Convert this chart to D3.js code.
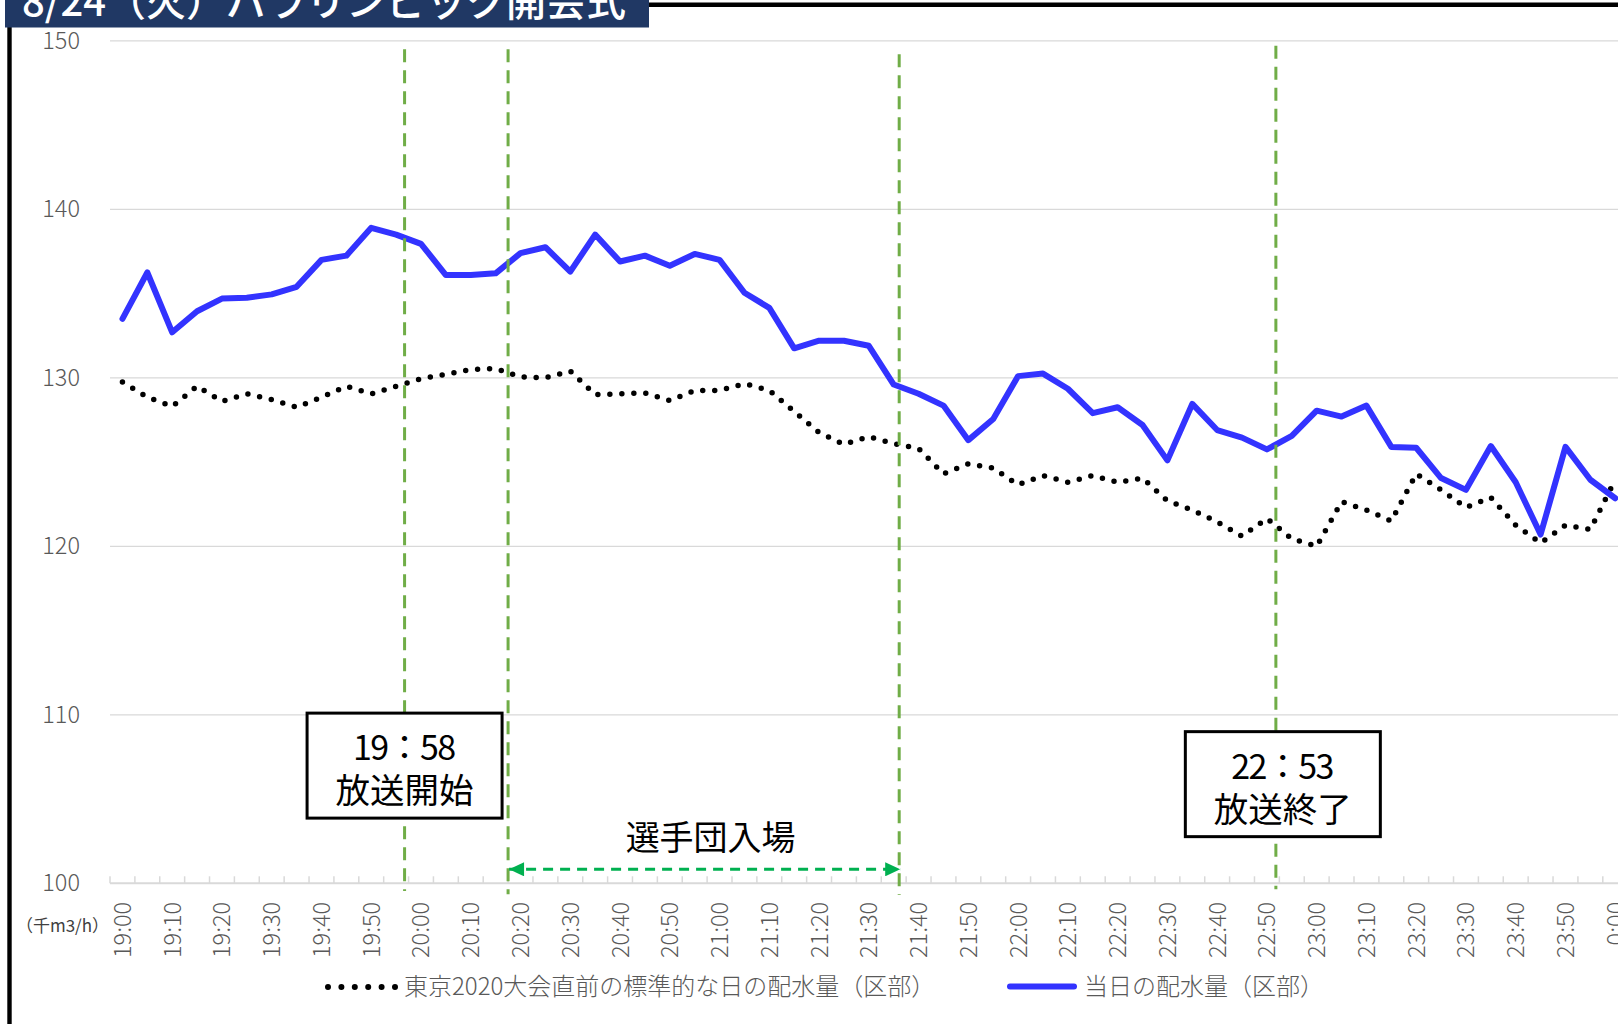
<!DOCTYPE html>
<html><head><meta charset="utf-8">
<script src="https://cdn.jsdelivr.net/npm/d3@7"></script>
<style>
html,body{margin:0;padding:0;background:#fff;overflow:hidden}
svg{display:block}
text{font-family:"Noto Sans CJK JP","Noto Sans",sans-serif}
</style></head><body>
<svg id="chart" width="1618" height="1024"></svg>
<script>
// ---------- data ----------
const categories = [
 "19:00","19:05","19:10","19:15","19:20","19:25","19:30","19:35","19:40","19:45",
 "19:50","19:55","20:00","20:05","20:10","20:15","20:20","20:25","20:30","20:35",
 "20:40","20:45","20:50","20:55","21:00","21:05","21:10","21:15","21:20","21:25",
 "21:30","21:35","21:40","21:45","21:50","21:55","22:00","22:05","22:10","22:15",
 "22:20","22:25","22:30","22:35","22:40","22:45","22:50","22:55","23:00","23:05",
 "23:10","23:15","23:20","23:25","23:30","23:35","23:40","23:45","23:50","23:55","0:00"];
const tickLabels = [
 "19:00","19:10","19:20","19:30","19:40","19:50","20:00","20:10","20:20","20:30",
 "20:40","20:50","21:00","21:10","21:20","21:30","21:40","21:50","22:00","22:10",
 "22:20","22:30","22:40","22:50","23:00","23:10","23:20","23:30","23:40","23:50","0:00"];
const yTicks = [100, 110, 120, 130, 140, 150];
const standardDay = [
 129.75,128.85,128.3,129.5,128.6,129.05,128.7,128.25,128.85,129.5,
 129.05,129.5,129.95,130.2,130.5,130.55,130.05,130.0,130.4,129.0,
 129.05,129.1,128.65,129.25,129.25,129.65,129.25,128.0,126.75,126.05,
 126.5,126.1,125.8,124.3,124.9,124.65,123.65,124.2,123.8,124.2,
 123.8,124.05,122.7,122.15,121.45,120.6,121.65,120.45,120.0,122.65,
 122.15,121.5,124.3,123.35,122.3,122.9,121.25,120.2,121.25,121.0,123.95];
const today = [
 133.5,136.25,132.7,133.95,134.7,134.75,134.95,135.4,137.0,137.25,
 138.9,138.5,137.95,136.1,136.1,136.2,137.4,137.75,136.3,138.5,
 136.9,137.25,136.65,137.35,137.0,135.05,134.15,131.75,132.2,132.2,
 131.9,129.6,129.05,128.35,126.3,127.55,130.1,130.25,129.35,127.9,
 128.25,127.2,125.1,128.45,126.9,126.45,125.75,126.55,128.05,127.7,
 128.35,125.9,125.85,124.05,123.35,125.95,123.8,120.7,125.9,123.95,122.85];
const seriesNames = ["東京2020大会直前の標準的な日の配水量（区部）", "当日の配水量（区部）"];
const titleText = "8/24（火）パラリンピック開会式";
const unitLabel = "（千m3/h）";
// event marker lines (minutes after 19:00) and their vertical extent in axis units
const markerMinutes = [56.7, 77.5, 156.1, 231.8];
const markerTop = [149.5, 149.5, 149.2, 149.7];
const markerBottom = [99.55, 99.35, 99.3, 99.65];
// annotation boxes
const boxLine1 = ["19：58", "22：53"];
const boxLine2 = ["放送開始", "放送終了"];
const boxMinutes = [56.7, 233.2];
const boxTop = [110.1, 109.0];
// athletes' entrance span
const entryLabel = "選手団入場";
const entryFrom = 77.5, entryTo = 156.5, entryLevel = 100.83, entryLabelLevel = 101.98;

// ---------- chart ----------
const svg = d3.select("#chart");
svg.append("rect").attr("width",1618).attr("height",1024).attr("fill","#fff");

const x = d3.scaleBand().domain(categories).range([110, 110 + 24.88 * categories.length]);
const cx = c => x(c) + x.bandwidth() / 2;
const xm = d3.scaleLinear().domain([0, 300]).range([cx(categories[0]), cx(categories[categories.length-1])]);
const y = d3.scaleLinear().domain([100, 150]).range([883.3, 40.8]);
const plotLeft = x.range()[0], plotRight = x.range()[1];

// gridlines
svg.append("g").selectAll("line").data(yTicks.filter(v => v !== 100)).join("line")
  .attr("x1", plotLeft).attr("x2", plotRight)
  .attr("y1", d => y(d)).attr("y2", d => y(d))
  .attr("stroke", "#d9d9d9").attr("stroke-width", 1.3);

// y axis labels
const yAxis = svg.append("g").attr("transform", `translate(${plotLeft},0)`)
  .call(d3.axisLeft(y).tickValues(yTicks).tickSize(0).tickPadding(30));
yAxis.select(".domain").remove();
yAxis.selectAll("text").attr("font-size", 23.5).attr("fill", "#595959")
  .attr("font-weight", 300).attr("font-family", '"Noto Sans CJK JP", sans-serif');

// x axis line + ticks (between categories)
svg.append("line").attr("x1", plotLeft).attr("x2", plotRight)
  .attr("y1", y(100)).attr("y2", y(100)).attr("stroke", "#d9d9d9").attr("stroke-width", 2);
const boundaries = categories.map(c => x(c)).concat([plotRight]);
svg.append("g").selectAll("line").data(boundaries).join("line")
  .attr("x1", d => d).attr("x2", d => d)
  .attr("y1", y(100)).attr("y2", y(100) - 7)
  .attr("stroke", "#d9d9d9").attr("stroke-width", 1.5);

// x tick labels (every 10 minutes)
const labelCats = categories.filter((c, i) => i % 2 === 0);
svg.append("g").selectAll("text").data(labelCats).join("text")
  .attr("transform", d => `translate(${cx(d)},${y(100) + 18.5}) rotate(-90)`)
  .attr("text-anchor", "end").attr("dy", "0.36em")
  .attr("font-size", 23.5).attr("font-weight", 300).attr("fill", "#595959")
  .text((d, i) => tickLabels[i]);

// unit label
svg.append("text").attr("x", 62.5).attr("y", y(100) + 43).attr("dy", "0.35em")
  .attr("text-anchor", "middle").attr("font-size", 17).attr("fill", "#404040")
  .text(unitLabel);

// series
const line = d3.line().x((d, i) => cx(categories[i])).y(d => y(d));
svg.append("path").datum(standardDay).attr("d", line)
  .attr("fill", "none").attr("stroke", "#000").attr("stroke-width", 5.5)
  .attr("stroke-dasharray", "0 12").attr("stroke-linecap", "round").attr("stroke-linejoin", "round");
svg.append("path").datum(today).attr("d", line)
  .attr("fill", "none").attr("stroke", "#3333ff").attr("stroke-width", 6)
  .attr("stroke-linecap", "round").attr("stroke-linejoin", "round");

// event marker lines
svg.append("g").selectAll("line").data(markerMinutes).join("line")
  .attr("x1", d => xm(d)).attr("x2", d => xm(d))
  .attr("y1", (d, i) => y(markerTop[i])).attr("y2", (d, i) => y(markerBottom[i]))
  .attr("stroke", "#70ad47").attr("stroke-width", 3).attr("stroke-dasharray", "13 8");

// entrance arrow
const defs = svg.append("defs");
["arrEnd", "arrStart"].forEach((id, k) => {
  defs.append("marker").attr("id", id).attr("markerUnits", "userSpaceOnUse")
    .attr("markerWidth", 18).attr("markerHeight", 14).attr("refX", k === 0 ? 15 : 0).attr("refY", 7)
    .attr("orient", "auto")
    .append("path").attr("d", k === 0 ? "M0,0 L15,7 L0,14 Z" : "M15,0 L0,7 L15,14 Z").attr("fill", "#00b050");
});
svg.append("line")
  .attr("x1", xm(entryFrom) + 1).attr("x2", xm(entryTo) - 1)
  .attr("y1", y(entryLevel)).attr("y2", y(entryLevel))
  .attr("stroke", "#00b050").attr("stroke-width", 3).attr("stroke-dasharray", "10 7")
  .attr("marker-start", "url(#arrStart)").attr("marker-end", "url(#arrEnd)");
svg.append("text").attr("x", (xm(entryFrom) + xm(entryTo)) / 2 + 6).attr("y", y(entryLabelLevel))
  .attr("text-anchor", "middle").attr("font-size", 34).attr("fill", "#000").text(entryLabel);

// annotation boxes
const boxW = 195, boxH = 105;
const boxes = svg.append("g").selectAll("g").data(boxMinutes).join("g")
  .attr("transform", (d, i) => `translate(${xm(d)},${y(boxTop[i])})`);
boxes.append("rect").attr("x", -boxW / 2).attr("y", 0).attr("width", boxW).attr("height", boxH)
  .attr("fill", "#fff").attr("stroke", "#000").attr("stroke-width", 3);
boxes.append("text").attr("x", 0).attr("y", 47).attr("text-anchor", "middle")
  .attr("font-size", 34).attr("fill", "#000")
  .attr("textLength", 103).attr("lengthAdjust", "spacing")
  .text((d, i) => boxLine1[i]);
boxes.append("text").attr("x", 0).attr("y", 90).attr("text-anchor", "middle")
  .attr("font-size", 34.5).attr("fill", "#000").text((d, i) => boxLine2[i]);

// legend
const legY = 987;
svg.append("line").attr("x1", 328).attr("x2", 395).attr("y1", legY).attr("y2", legY)
  .attr("stroke", "#000").attr("stroke-width", 6).attr("stroke-linecap", "round")
  .attr("stroke-dasharray", "0 13.4");
svg.append("text").attr("x", 404).attr("y", legY + 7.5).attr("font-size", 24)
  .attr("font-weight", 300).attr("fill", "#595959").text(seriesNames[0]);
svg.append("line").attr("x1", 1010).attr("x2", 1074).attr("y1", legY - 0.5).attr("y2", legY - 0.5)
  .attr("stroke", "#3333ff").attr("stroke-width", 6).attr("stroke-linecap", "round");
svg.append("text").attr("x", 1084).attr("y", legY + 7.5).attr("font-size", 24)
  .attr("font-weight", 300).attr("fill", "#595959").text(seriesNames[1]);

// frame + title
svg.append("path").attr("d", "M9.5,1040 V4.7 H1640").attr("fill", "none")
  .attr("stroke", "#000").attr("stroke-width", 4.4);
svg.append("rect").attr("x", 5).attr("y", -10).attr("width", 644).attr("height", 37.5).attr("fill", "#203864");
svg.append("text").attr("x", 22).attr("y", 16).attr("font-size", 40).attr("fill", "#fff")
  .attr("font-weight", 500).text(titleText);
</script>
</body></html>
